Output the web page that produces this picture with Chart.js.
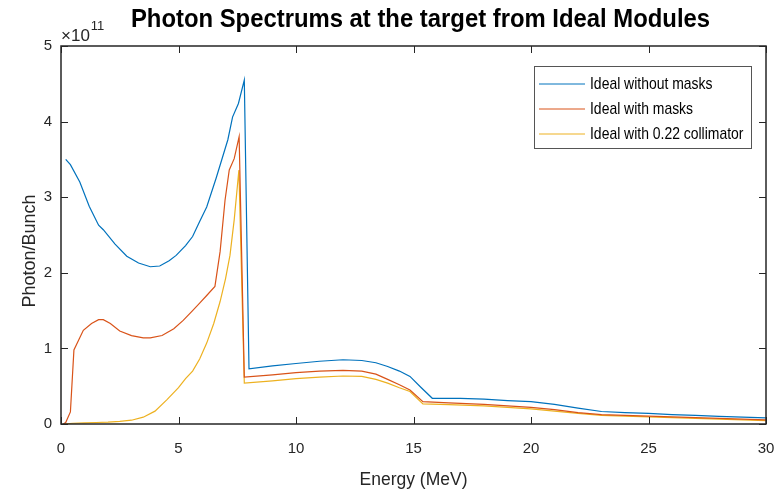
<!DOCTYPE html>
<html>
<head>
<meta charset="utf-8">
<script src="https://cdn.jsdelivr.net/npm/chart.js@4"></script>
<style>
  html, body { margin: 0; padding: 0; background: #fff; }
  #wrap { width: 777px; height: 492px; }
</style>
</head>
<body>
<div id="wrap"><canvas id="spectrum"></canvas></div>
<script>
// values are in units of 1e11 photons/bunch
const expo = 11;

const energyNoMask = [0.2, 0.4, 0.8, 1.2, 1.6, 1.8, 2.3, 2.8, 3.3, 3.8, 4.2, 4.6, 4.9, 5.3, 5.6, 5.9, 6.2, 6.6, 7.1, 7.3, 7.55, 7.8,
  8.0, 9, 10, 11, 12, 12.8, 13.4, 13.9, 14.4, 14.85, 15.3, 15.8, 17, 18, 19, 20, 21, 22, 23, 24, 25, 26, 27, 28, 29, 30];
const photonNoMask = [3.50, 3.43, 3.20, 2.88, 2.63, 2.57, 2.38, 2.22, 2.13, 2.08, 2.09, 2.16, 2.23, 2.36, 2.48, 2.68, 2.87, 3.25, 3.76, 4.06, 4.24, 4.55,
  0.73, 0.77, 0.80, 0.83, 0.85, 0.84, 0.81, 0.76, 0.70, 0.63, 0.49, 0.34, 0.34, 0.33, 0.31, 0.295, 0.26, 0.21, 0.165, 0.15, 0.14, 0.125, 0.115, 0.10, 0.09, 0.08];

const energyMask = [0.1, 0.2, 0.4, 0.55, 0.95, 1.3, 1.6, 1.8, 2.1, 2.5, 3, 3.5, 3.8, 4.3, 4.8, 5.2, 5.6, 5.9, 6.2, 6.55, 6.77, 6.98, 7.16, 7.37, 7.58,
  7.8, 9, 10, 11, 12, 12.8, 13.4, 13.9, 14.4, 14.85, 15.4, 16.5, 18, 19, 20, 21, 22, 23, 24, 25, 26, 27, 28, 29, 30];
const photonMask = [0, 0.02, 0.16, 0.98, 1.24, 1.33, 1.38, 1.38, 1.33, 1.23, 1.17, 1.14, 1.14, 1.17, 1.26, 1.37, 1.50, 1.60, 1.70, 1.82, 2.28, 2.96, 3.36, 3.51, 3.80,
  0.62, 0.65, 0.68, 0.70, 0.71, 0.70, 0.66, 0.59, 0.52, 0.45, 0.295, 0.28, 0.26, 0.24, 0.22, 0.19, 0.15, 0.125, 0.115, 0.105, 0.095, 0.085, 0.075, 0.065, 0.055];

const energyColl = [0.1, 0.5, 1, 1.5, 2, 2.5, 3, 3.5, 4, 4.5, 5, 5.3, 5.6, 5.9, 6.2, 6.5, 6.77, 7.0, 7.19, 7.37, 7.57,
  7.8, 9, 10, 11, 12, 12.8, 13.4, 13.9, 14.4, 14.85, 15.4, 16.5, 18, 19, 20, 21, 22, 23, 24, 25, 26, 27, 28, 29, 30];
const photonColl = [0, 0.01, 0.015, 0.02, 0.025, 0.035, 0.05, 0.09, 0.17, 0.32, 0.48, 0.60, 0.70, 0.86, 1.07, 1.33, 1.62, 1.92, 2.23, 2.70, 3.36,
  0.54, 0.57, 0.60, 0.62, 0.635, 0.63, 0.59, 0.54, 0.48, 0.43, 0.265, 0.255, 0.24, 0.22, 0.2, 0.17, 0.14, 0.115, 0.105, 0.095, 0.085, 0.075, 0.065, 0.055, 0.045];

const seriesNames = ["Ideal without masks", "Ideal with masks", "Ideal with 0.22 collimator"];
const seriesColors = ["#0072BD", "#D95319", "#EDB120"];
const xTicks = [0, 5, 10, 15, 20, 25, 30];
const yTicks = [0, 1, 2, 3, 4, 5];
const chartTitle = "Photon Spectrums at the target from Ideal Modules";
const yTitle = "Photon/Bunch";

const plain = "'Liberation Sans', Arial, sans-serif";
const axisInk = "#262626";

function pairs(xs, ys) {
  return xs.map((e, i) => ({ x: e, y: ys[i] }));
}

// squeezed text, stands in for the narrow Helvetica of the original
function narrowText(ctx, text, x, y, font, squeeze) {
  ctx.save();
  ctx.translate(x, y);
  ctx.scale(squeeze, 1);
  ctx.font = font;
  ctx.fillText(text, 0, 0);
  ctx.restore();
}

// box, inward ticks, title, exponent label, y title and legend, MATLAB style
const matlabFrame = {
  id: "matlabFrame",
  afterDatasetsDraw(chart) {
    const { ctx, chartArea: a, scales } = chart;
    const x = scales.x, y = scales.y;
    ctx.save();
    ctx.strokeStyle = axisInk;
    ctx.lineWidth = 1.5;
    ctx.strokeRect(a.left, a.top, a.right - a.left, a.bottom - a.top);

    const tl = 7;
    ctx.beginPath();
    xTicks.forEach(v => {
      const px = Math.round(x.getPixelForValue(v)) + 0.5;
      ctx.moveTo(px, a.bottom); ctx.lineTo(px, a.bottom - tl);
      ctx.moveTo(px, a.top); ctx.lineTo(px, a.top + tl);
    });
    yTicks.forEach(v => {
      const py = Math.round(y.getPixelForValue(v)) + 0.5;
      ctx.moveTo(a.left, py); ctx.lineTo(a.left + tl, py);
      ctx.moveTo(a.right, py); ctx.lineTo(a.right - tl, py);
    });
    ctx.lineWidth = 1;
    ctx.stroke();

    // title, centred over the plot box
    ctx.fillStyle = "#000";
    ctx.textAlign = "center";
    ctx.textBaseline = "middle";
    narrowText(ctx, chartTitle, (a.left + a.right) / 2 + 7, 20, "bold 26.5px " + plain, 0.9);

    // x10^11 above the y axis
    ctx.fillStyle = axisInk;
    ctx.textBaseline = "alphabetic";
    ctx.textAlign = "left";
    ctx.font = "17px " + plain;
    ctx.fillText("\u00d710", a.left, a.top - 5);
    const w = ctx.measureText("\u00d710").width;
    ctx.font = "13px " + plain;
    ctx.fillText(String(expo), a.left + w + 1, a.top - 16);

    // y axis title, sits a bit below the axis centre like the original
    ctx.save();
    ctx.translate(30, 251);
    ctx.rotate(-Math.PI / 2);
    ctx.textAlign = "center";
    ctx.textBaseline = "middle";
    ctx.font = "18px " + plain;
    ctx.fillText(yTitle, 0, 0);
    ctx.restore();

    // legend box
    const bw = 217, bh = 82;
    const bx = a.right - 15 - bw, by = a.top + 20;
    ctx.fillStyle = "#fff";
    ctx.fillRect(bx, by, bw, bh);
    ctx.strokeStyle = "#555";
    ctx.lineWidth = 1;
    ctx.strokeRect(bx + 0.5, by + 0.5, bw, bh);
    ctx.textBaseline = "middle";
    ctx.textAlign = "left";
    chart.data.datasets.forEach((ds, i) => {
      const ly = by + 18 + i * 25;
      ctx.strokeStyle = ds.borderColor;
      ctx.beginPath();
      ctx.moveTo(bx + 5, ly); ctx.lineTo(bx + 51, ly);
      ctx.stroke();
      ctx.fillStyle = "#000";
      narrowText(ctx, ds.label, bx + 56, ly, "17px " + plain, 0.82);
    });
    ctx.restore();
  }
};

const seriesData = [pairs(energyNoMask, photonNoMask), pairs(energyMask, photonMask), pairs(energyColl, photonColl)];

new Chart(document.getElementById("spectrum"), {
  type: "line",
  data: {
    datasets: seriesNames.map((name, i) => ({
      label: name,
      data: seriesData[i],
      borderColor: seriesColors[i],
      backgroundColor: seriesColors[i],
      borderWidth: 1.2,
      pointRadius: 0,
      tension: 0,
      fill: false
    }))
  },
  options: {
    responsive: true,
    maintainAspectRatio: false,
    animation: false,
    layout: { padding: { left: 0, right: 11, top: 46, bottom: 0 } },
    plugins: {
      legend: { display: false },
      tooltip: { enabled: false },
      title: { display: false }
    },
    scales: {
      x: {
        type: "linear",
        min: 0,
        max: 30,
        afterFit: s => { s.height = 68; s.paddingLeft = 0; s.paddingRight = 0; },
        afterBuildTicks: s => { s.ticks = xTicks.map(v => ({ value: v })); },
        grid: { display: false, drawTicks: false },
        border: { display: false },
        ticks: { color: axisInk, font: { family: plain, size: 15 }, padding: 16, maxRotation: 0 },
        title: { display: true, text: "Energy (MeV)", color: axisInk, font: { family: plain, size: 17.5 }, padding: { top: 0, bottom: 1 } }
      },
      y: {
        min: 0,
        max: 5,
        afterFit: s => { s.width = 61; s.paddingTop = 0; s.paddingBottom = 0; },
        afterBuildTicks: s => { s.ticks = yTicks.map(v => ({ value: v })); },
        grid: { display: false, drawTicks: false },
        border: { display: false },
        ticks: { color: axisInk, font: { family: plain, size: 15 }, padding: 9 },
        title: { display: false }
      }
    }
  },
  plugins: [matlabFrame]
});
</script>
</body>
</html>
